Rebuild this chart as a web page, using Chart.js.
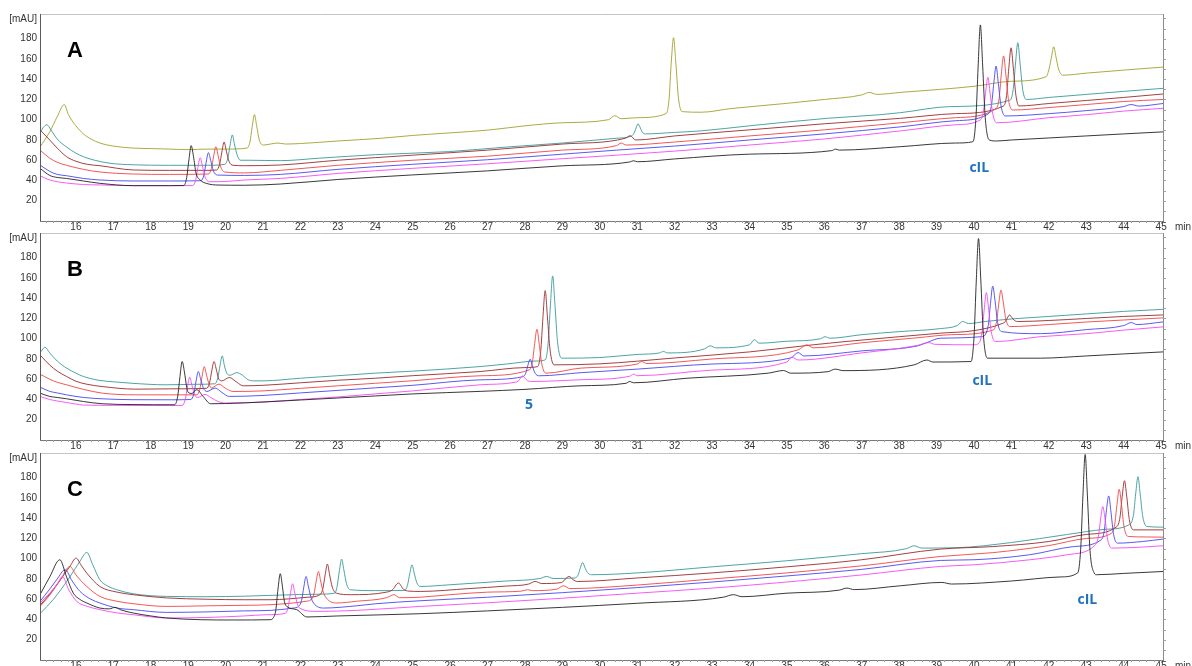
<!DOCTYPE html>
<html>
<head>
<meta charset="utf-8">
<script src="https://cdn.jsdelivr.net/npm/chart.js@4.4.1/dist/chart.umd.min.js"></script>
<style>
  body { margin: 0; background: #fff; overflow: hidden; width: 1192px; height: 666px; position: relative; }
  canvas { position: absolute; left: 0; }
</style>
</head>
<body>
<canvas id="panelA" width="1192" height="240" style="top:0px"></canvas>
<canvas id="panelB" width="1192" height="240" style="top:219px"></canvas>
<canvas id="panelC" width="1192" height="240" style="top:439px"></canvas>
<script>
// tick labels
var xTicks = [16,17,18,19,20,21,22,23,24,25,26,27,28,29,30,31,32,33,34,35,36,37,38,39,40,41,42,43,44,45]
var yTicks = [20,40,60,80,100,120,140,160,180]

// ---- panel A : [min, mAU] ----
var aBlack = [[15.04,52],[15.3,45],[15.5,43],[15.75,42],[16.2,39.5],[16.64,37.2],[17.53,34.9],[18.5,34.9],[18.88,35],
  [18.96,42.9],[19.02,60.6],[19.08,74.4],[19.14,64],[19.21,47.3],[19.32,40.5],[19.5,37],[19.8,35.5],[20.5,35.3],[21.46,36.5],
  [23,41],[25,45.5],[27,49.5],[29,54.5],[30.8,58.3],[30.9,59.5],[31,58.5],[32,61.3],[34,66],[36.2,69.5],[36.3,71],[36.4,70],
  [38.04,73.4],[39.5,77],[39.97,78.3],[40.05,101],[40.11,153],[40.17,193.6],[40.23,154],[40.3,102],[40.41,80],[40.6,79],
  [41,80],[42,82],[43,84],[44,86],[45.05,88]]
var aMagenta = [[15.04,44.7],[15.3,40.5],[15.5,38.8],[15.75,37.5],[16.2,36],[16.64,35.6],[17.53,34.9],[18.5,34.9],[19.12,35],
  [19.2,40.5],[19.26,52.9],[19.32,62.5],[19.38,54.5],[19.45,43.5],[19.56,38.8],[20,39],[20.5,40.5],[21.46,42],[23,47],[25,52],
  [27,56.5],[29,61.5],[30.45,65],[32,69],[34,75],[36,81],[38.04,89],[39.5,95],[40.17,99.8],[40.25,108],[40.31,127],[40.37,142],
  [40.43,126],[40.5,106],[40.61,97],[42,102],[43,105],[44,108.5],[45.05,111.3]]
var aBlue = [[15.04,55.3],[15.3,49],[15.5,46],[15.75,44.7],[16.2,42],[16.64,40.5],[17.53,39.5],[18.5,39.5],[19.34,39.8],
  [19.42,45.3],[19.48,57.8],[19.54,67.5],[19.6,60],[19.67,49.8],[19.78,45.4],[20.5,45],[21.46,46],[23,51],[25,56],[27,60.5],
  [29,66],[30.45,70],[32,74],[34,80],[36,86],[38.04,93],[39.5,99],[40.39,106],[40.47,115.4],[40.53,136.5],[40.59,153],
  [40.65,135.5],[40.72,114],[40.83,103.7],[42,106],[43,109],[44,113],[44.2,115],[44.4,113.5],[45.05,116]]
var aRed = [[15.04,70],[15.3,62],[15.5,58],[15.75,55],[16.2,51],[16.64,48.4],[17.53,46.4],[18.5,46],[19.54,46.4],
  [19.62,51.8],[19.68,64],[19.74,73.4],[19.8,64.5],[19.87,53.4],[19.98,48.4],[20.5,47.5],[21.46,50],[23,55],[25,60],[27,64],
  [29,70],[30.45,74.5],[30.57,77],[30.7,75],[32,78],[34,84],[36,90],[38.04,97],[39.5,102],[40.59,111],[40.67,121],[40.73,145],
  [40.79,163],[40.85,145],[40.92,120],[41.03,109.6],[42,112],[43,115],[44,118],[45.05,120]]
var aDarkRed = [[15.04,90],[15.3,80],[15.5,72],[15.75,63.5],[16,59],[16.3,56],[16.64,54.6],[17.53,50.4],[18.5,50],[19.5,50],
  [19.76,50.4],[19.84,56],[19.9,68],[19.96,78],[20.02,69],[20.09,59],[20.2,55],[20.5,54.6],[21.46,55.3],[23,60],[25,65],
  [27,70],[29,76],[30.68,81.7],[30.81,84.2],[30.96,80],[32,84],[34,90],[36,96],[38.04,101.4],[39.5,106],[40.79,113.6],
  [40.87,124],[40.93,151],[40.99,171],[41.05,151],[41.12,124],[41.2,113.6],[42,116],[43,119],[44,122],[45.05,125.4]]
var aTeal = [[15.04,87],[15.12,92],[15.22,95],[15.35,89],[15.5,81],[15.75,73],[16,67],[16.2,63.5],[16.5,60],[16.91,57],
  [17.53,55.5],[18.5,55],[19.5,55],[19.98,56],[20.06,62],[20.12,75],[20.18,85],[20.24,75],[20.31,65],[20.39,60],[20.6,60],
  [21.46,59.6],[22.5,62],[24,65.5],[25.96,68.5],[27.5,73],[29,77],[30.45,81.7],[30.85,84],[30.93,88],[30.98,93],[31.02,96],
  [31.07,93],[31.13,88],[31.22,86],[32,87.5],[32.71,89],[34,94],[36.08,101.4],[37.5,105],[38.04,107],[39.37,113],
  [40.97,119.5],[41.05,131],[41.11,156],[41.17,176],[41.23,156],[41.3,130],[41.4,120],[42,122],[43,125],[44,128],[45.05,131]]
var aOlive = [[15.04,73],[15.3,88],[15.5,103],[15.69,115],[15.8,105],[16,94],[16.2,86],[16.4,81],[16.64,77],[17,74],
  [17.53,72],[18,71.5],[18.5,71],[19,70.5],[19.5,71],[20,71],[20.57,72],[20.65,78],[20.71,93],[20.77,105],[20.83,94],
  [20.9,80],[21.01,75],[21.2,76],[21.4,77],[21.6,76],[22,76.5],[23,79],[24.16,81.7],[25,84.5],[26,87],[27.08,90],[28,94],
  [29,97],[30.23,100],[30.4,104],[30.57,101],[31,102],[31.77,106],[31.85,120],[31.91,157],[31.97,181],[32.03,157],
  [32.1,122],[32.2,108],[32.71,107.4],[33.5,111],[34.95,116],[36,120],[37,124.5],[37.2,127],[37.4,125],[38.04,127],
  [39.1,130],[40,133],[41,138],[41.93,142.5],[42.01,151],[42.07,162],[42.13,172],[42.19,162],[42.26,150],[42.37,144],
  [43,146],[44,149],[45.05,152]]

// ---- panel B ----
var bBlack = [[15.04,46.3],[15.3,43],[15.5,42],[15.75,40.7],[16.2,38],[16.7,35.8],[17.5,35],[18.64,34.8],[18.72,43.3],
  [18.78,62.6],[18.84,77.5],[18.9,67],[18.96,52],[19,47],[19.1,46],[19.23,49.6],[19.4,43],[19.6,35.8],[20,36],[21,37.5],
  [22,39.5],[23,41.5],[24,43.5],[25,45.5],[26.8,48],[28,50],[29.47,53.5],[30.7,56],[30.8,57.8],[30.9,56.5],[32.33,61],
  [34.5,66],[34.91,68.6],[35.1,66],[36.1,67.5],[36.29,70],[36.5,68.5],[38.4,74.2],[38.74,79],[38.9,77],[39.92,77.5],
  [40,101.8],[40.06,157],[40.12,199],[40.18,159],[40.25,104],[40.36,80.8],[41.77,80.8],[43,83],[44,85],[45.05,87]]
var bMagenta = [[15.04,43],[15.3,40],[15.5,38.5],[15.75,37],[16,35.5],[16.2,34.5],[17,34.2],[18.5,34],[18.84,34.2],
  [18.92,39.8],[18.98,52.3],[19.04,62.1],[19.1,54],[19.17,45],[19.25,42],[19.45,45],[19.6,42],[19.8,38],[20,36.5],[21,37.5],
  [22,40],[23,42.5],[24,45.5],[25,48.5],[26.8,54.5],[27.74,57],[27.82,58.1],[27.88,61.1],[27.94,63.4],[28,61],[28.07,58.5],
  [28.18,57.8],[29.5,59.5],[30.8,63],[30.9,65],[31,63.5],[33,69],[35,77],[35.13,81.8],[35.3,79],[37,86],[38.5,93.5],
  [38.78,96.2],[38.95,94.5],[40,94],[40.13,95.6],[40.21,105.6],[40.27,128],[40.33,145.5],[40.39,129],[40.46,107],
  [40.57,97.2],[41.77,102],[43,105],[44,108.5],[45.05,111.7]]
var bBlue = [[15.04,52.2],[15.3,48],[15.5,46.5],[15.75,44.6],[16.2,42],[16.7,40.7],[17.5,39.8],[18.55,39.7],[19.07,40],
  [19.15,45.5],[19.21,58],[19.27,67.6],[19.33,60.5],[19.4,51.8],[19.5,47.9],[19.72,51.3],[19.9,47],[20.1,43],[21,44],
  [22,46.5],[23,49],[24,51.5],[25,54],[26.8,59.4],[27.94,62.5],[28.02,66],[28.08,74],[28.14,79.8],[28.2,73],[28.27,66],
  [28.38,63.4],[29.5,66.5],[31,70],[33,75],[35.1,81],[35.3,86.3],[35.45,83],[37,88],[38.5,93],[38.74,96.2],[39.1,100.5],
  [40.2,102],[40.38,112.8],[40.44,135],[40.5,152],[40.56,138],[40.63,116],[40.74,107],[41.77,105],[43,109],[44,113],
  [44.2,116],[44.35,114],[45.05,116.6]]
var bRed = [[15.04,65],[15.3,60],[15.5,57],[15.75,54.5],[16.2,50],[16.7,46.3],[17.6,44.6],[18.5,44.6],[19.23,44.6],
  [19.31,50.2],[19.37,62.7],[19.43,72.5],[19.49,64],[19.56,55],[19.62,51.3],[19.82,55.2],[20,51],[20.2,47.9],[21,48.5],
  [22,51],[23,53.5],[24,56],[25,58.5],[26.8,63.4],[28.12,69.3],[28.2,77.3],[28.26,95.4],[28.32,109.4],[28.38,94.6],
  [28.45,75],[28.56,66],[29.5,71],[31,75],[31.12,77.5],[31.25,75.5],[33,80],[35.3,89],[35.53,94],[35.7,91],[37,96],
  [38.5,101],[39.4,104],[40.52,108.7],[40.6,116.6],[40.66,134.2],[40.72,148],[40.78,136.5],[40.85,119.2],[40.96,112],
  [42,114],[43,116.5],[44,118.5],[45.05,120.6]]
var bDarkRed = [[15.04,84],[15.3,74],[15.5,68],[15.75,62.7],[16,58],[16.3,55],[16.7,52.8],[17.6,50.2],[18.5,50.5],[19.49,51],
  [19.57,56.3],[19.63,68.2],[19.69,77.5],[19.75,70],[19.82,60],[19.9,58.4],[20.1,61.7],[20.3,57],[20.47,53.5],[21,54],
  [22,56.5],[23,59],[24,61],[25,63.5],[26.8,67.6],[28,71.5],[28.34,72.5],[28.42,87.5],[28.48,121],[28.54,147.5],[28.6,121.5],
  [28.67,89],[28.78,74.2],[30,75.2],[32,81],[34,87],[35.7,94],[36.5,97],[38,102],[39.1,105.5],[40,108],[40.75,115],
  [40.83,116.7],[40.89,120.5],[40.95,123.5],[41.01,121],[41.08,118],[41.2,117],[42,118],[43,120],[44,122],[45.05,123.5]]
var bTeal = [[15.04,86.3],[15.1,89],[15.17,91.6],[15.3,86],[15.5,78],[15.75,71],[16,66],[16.2,62.7],[16.6,59],[17.09,57.2],
  [17.5,56],[18.4,54.5],[19.2,55],[19.71,55.5],[19.79,61],[19.85,73.4],[19.91,83],[19.97,73],[20.03,66],[20.12,64],
  [20.3,66.5],[20.45,64],[20.6,59.5],[20.75,58.4],[21,58.4],[22,61],[23,63.5],[24,66],[25,68],[26.8,72.5],[27.5,75],
  [28.3,78],[28.54,79.1],[28.62,95.7],[28.68,133],[28.74,162],[28.8,134],[28.87,97],[28.98,80.8],[30,81.4],[31,84.5],
  [31.6,86],[31.7,87.5],[31.8,86],[32.8,90],[32.95,93],[33.1,91],[34,94],[34.13,99],[34.26,95.6],[35,97.5],[35.9,100],
  [36.02,102],[36.15,100.5],[37,104],[38,107],[39.1,110],[39.55,113],[39.7,117],[39.85,115],[40.3,117],[41,119.5],
  [42,122],[43,124.5],[44,127],[45.05,129]]

// ---- panel C ----
var cBlack = [[15.04,64.5],[15.3,82],[15.57,99],[15.75,82],[15.93,66],[16.1,60],[16.29,56.3],[16.64,51.3],[16.9,50.5],
  [17.04,52],[17.2,49.5],[17.53,46.4],[18,43.5],[18.42,41.5],[19.32,39.8],[20.2,39.5],[21.19,39.8],[21.28,42],[21.34,49],
  [21.4,70],[21.46,85.2],[21.52,72],[21.57,58],[21.63,53],[21.9,49.7],[22.17,42.5],[23,43.5],[25.2,45.7],[27,48.5],
  [29,52],[31,56],[33.3,62],[33.57,64.5],[33.8,62.5],[35,66],[36.4,69],[36.6,71],[36.8,69.5],[38.03,73.3],[39.14,76.6],
  [39.4,75],[41,78],[42.3,82],[42.77,86],[42.85,109.4],[42.91,162],[42.97,203],[43.03,162],[43.1,108],[43.21,86],
  [43.27,84.2],[44,85.5],[45.05,87.4]]
var cMagenta = [[15.04,56.3],[15.3,66],[15.5,75],[15.64,82.5],[15.8,70],[16.02,57.9],[16.3,53],[16.64,49.7],[17.1,46.5],
  [17.53,44.7],[18.42,41.5],[19.5,42],[20.5,43.5],[21.1,44.7],[21.59,46],[21.67,52],[21.73,65.3],[21.79,75.3],[21.85,66],
  [21.92,55],[21.98,51.3],[22.44,48],[23.5,49],[25.2,52.9],[27,56.5],[29,61],[31,66],[33,71],[35,77],[37,84],[39.1,92.4],
  [40,94],[41.5,99],[42.5,104],[43.24,113.7],[43.32,121.3],[43.38,138.3],[43.44,151.5],[43.5,139.6],[43.57,119.3],
  [43.68,110.5],[44.5,111.5],[45.05,112.8]]
var cBlue = [[15.04,57.9],[15.3,70],[15.5,80],[15.71,89.1],[15.9,78],[16.11,67.7],[16.4,60],[16.64,56.3],[17.1,51.3],
  [17.53,49.7],[18.42,47],[19.5,47.5],[20.5,48.5],[21.19,49],[21.81,51.3],[21.95,52.9],[22.03,58.8],[22.09,72],[22.15,82.5],
  [22.21,73],[22.28,62],[22.35,56.3],[22.62,51.3],[23.5,53.5],[24,55.5],[25.2,58.5],[27,62],[29,66.5],[31,71.5],[33,77],
  [35,83],[37,89.5],[39.1,98.3],[40,99],[41.5,104],[42.66,112],[43.4,118.7],[43.48,127.4],[43.54,148.4],[43.6,162],
  [43.66,146],[43.73,124],[43.84,115.4],[44.5,117],[45.05,119.4]]
var cRed = [[15.04,52.9],[15.3,64],[15.6,80],[15.84,92.4],[16,84],[16.29,72.6],[16.64,62.8],[17.1,58],[17.53,55.6],
  [18.42,52.9],[19.5,53.5],[20.5,54],[21.19,54.6],[22.15,58],[22.28,59.5],[22.36,65.1],[22.42,77.6],[22.48,87.4],[22.54,78],
  [22.61,67],[22.72,60],[22.97,56.3],[23.5,58],[24.3,61.5],[24.5,64.5],[24.65,61.5],[25.2,62],[26,64.5],[27,67],[27.9,68],
  [28.07,69.4],[28.2,68.5],[28.85,70],[29.03,73.3],[29.2,70.5],[31,74],[33,80],[35,86],[37,93],[39.1,102.2],[40.5,106],
  [42,113],[43,120],[43.68,125.3],[43.76,134],[43.82,153.4],[43.88,168.6],[43.94,153.5],[44.01,131.3],[44.12,122],
  [44.6,121.5],[45.05,121.3]]
var cDarkRed = [[15.04,54],[15.3,65],[15.6,80],[15.85,93],[16,100.6],[16.15,93],[16.29,85.8],[16.64,72.6],[17.1,67],
  [17.53,64.5],[18.42,61.3],[19.5,60],[20.5,59.5],[21.19,59.5],[22.2,62],[22.52,64.5],[22.6,70.5],[22.66,84.1],[22.72,94.7],
  [22.78,84],[22.85,72],[22.96,66],[23.33,64.5],[24.3,67],[24.45,69],[24.62,76],[24.75,70],[24.9,68],[25.2,67.7],[26.5,70.5],
  [27.5,73],[28.1,75],[28.27,77.6],[28.45,75.5],[28.98,76.5],[29.08,80],[29.18,82.5],[29.28,79.5],[29.4,77.5],[31,81],
  [33,86],[35,92],[37,99],[39.1,109.5],[40.5,112],[42,117],[43,124],[43.82,131.8],[43.9,140.8],[43.96,161.7],[44.02,177],
  [44.08,161.8],[44.15,138.7],[44.26,128.5],[45.05,128.5]]
var cTeal = [[15.04,45.7],[15.4,60],[15.8,80],[16.1,97],[16.29,106.2],[16.45,94],[16.64,79.2],[16.85,73],[17.09,69.4],
  [17.53,65.4],[18.42,62.8],[19.5,62.5],[20.5,63],[21.19,63.8],[22.5,65],[22.92,66.1],[22.98,72.8],[23.04,87.9],[23.1,99.6],
  [23.16,89],[23.23,75.4],[23.33,69.4],[24,68.5],[24.78,68.7],[24.86,73.8],[24.92,85.1],[24.98,94],[25.04,85.8],[25.11,76.3],
  [25.2,72.6],[26,74.3],[27.5,78],[28.4,80.5],[28.58,82.5],[28.75,80.5],[29.34,81],[29.42,84],[29.48,91],[29.54,96.3],
  [29.6,91.5],[29.67,86.3],[29.78,84.2],[31,86],[33,92],[35,98],[37,105],[38.2,110],[38.4,112.8],[38.6,110.5],[39.5,110.8],
  [41,116],[42.5,124],[43.5,129],[44.14,133.5],[44.26,143],[44.32,164],[44.38,181],[44.44,164],[44.51,141.5],[44.62,131.8],
  [45.05,131.2]]

// peak annotations [text, min, mAU]
var notesA = [['cIL', 40.14, 52]]
var notesB = [['cIL', 40.22, 58.6], ['5', 28.11, 35]]
var notesC = [['cIL', 43.03, 59.6]]

var COLORS = {
    black: '#222222', magenta: '#f548f5', blue: '#4646f2', red: '#f24444',
    darkred: '#9a2a2a', teal: '#3a9a9a', olive: '#a2a22c'
}
var TICK_FONT = { family: 'Liberation Sans', size: 10 }

var extras = {
    id: 'extras',
    afterDraw: function (chart) {
        var ctx = chart.ctx, a = chart.chartArea
        var xs = chart.scales.x, ys = chart.scales.y
        var opt = chart.options.plugins.extras
        ctx.save()
        ctx.lineWidth = 1
        // box
        ctx.strokeStyle = '#c4c4c4'
        ctx.beginPath(); ctx.moveTo(a.left, a.top + 0.5); ctx.lineTo(a.right, a.top + 0.5); ctx.stroke()
        ctx.strokeStyle = '#8a8a8a'
        ctx.beginPath(); ctx.moveTo(a.right + 0.5, a.top); ctx.lineTo(a.right + 0.5, a.bottom); ctx.stroke()
        ctx.strokeStyle = '#5a5a5a'
        ctx.beginPath(); ctx.moveTo(a.left + 0.5, a.top); ctx.lineTo(a.left + 0.5, a.bottom + 1); ctx.stroke()
        ctx.strokeStyle = '#7a7a7a'
        ctx.beginPath(); ctx.moveTo(a.left, a.bottom + 0.5); ctx.lineTo(a.right + 1, a.bottom + 0.5); ctx.stroke()
        // minor ticks
        ctx.strokeStyle = '#a0a0a0'
        ctx.beginPath()
        for (var v = 10; v <= 200; v += 10) {
            var py = Math.round(ys.getPixelForValue(v)) + 0.5
            ctx.moveTo(a.right, py); ctx.lineTo(a.right + 3, py)
        }
        for (var k = 76; k <= 225; k++) {
            var px = Math.round(xs.getPixelForValue(k / 5)) + 0.5
            if (px > a.right) break
            ctx.moveTo(px, a.bottom); ctx.lineTo(px, a.bottom + (k % 5 == 0 ? 3 : 2))
        }
        ctx.stroke()
        // texts
        ctx.fillStyle = '#333'
        ctx.font = '10px "Liberation Sans"'
        ctx.textBaseline = 'middle'
        ctx.textAlign = 'right'
        ctx.fillText('[mAU]', a.left - 3, a.top + 5)
        ctx.textAlign = 'left'
        ctx.fillText('min', a.right + 12, a.bottom + 6)
        ctx.fillStyle = '#000'
        ctx.font = 'bold 22px "Liberation Sans"'
        ctx.textAlign = 'center'
        ctx.fillText(opt.letter, a.left + 35, a.top + 37)
        ctx.fillStyle = '#1f72bd'
        ctx.font = 'bold 14px "Open Sans"'
        opt.notes.forEach(function (n) {
            ctx.fillText(n[0], xs.getPixelForValue(n[1]), ys.getPixelForValue(n[2]))
        })
        ctx.restore()
    }
}

function makePanel(id, letter, traces, notes) {
    var datasets = traces.map(function (t) {
        return {
            data: t[0].map(function (p) { return { x: p[0], y: p[1] } }),
            borderColor: t[1],
            borderWidth: 0.9,
            pointRadius: 0,
            fill: false,
            cubicInterpolationMode: 'monotone'
        }
    })
    new Chart(document.getElementById(id), {
        type: 'line',
        data: { datasets: datasets },
        options: {
            responsive: false,
            animation: false,
            devicePixelRatio: 1,
            layout: { padding: { left: 0, right: 29, top: 14, bottom: 0 } },
            plugins: {
                legend: { display: false },
                tooltip: { enabled: false },
                extras: { letter: letter, notes: notes }
            },
            scales: {
                x: {
                    type: 'linear', min: 15.04, max: 45.05,
                    grid: { display: false, drawTicks: false },
                    border: { display: false },
                    ticks: { font: TICK_FONT, color: '#333', padding: 0, maxRotation: 0, autoSkip: false },
                    afterBuildTicks: function (s) { s.ticks = xTicks.map(function (v) { return { value: v } }) },
                    afterFit: function (s) { s.height = 19 }
                },
                y: {
                    min: 0, max: 204.4,
                    grid: { display: false, drawTicks: false },
                    border: { display: false },
                    ticks: { font: TICK_FONT, color: '#333', padding: 3 },
                    afterBuildTicks: function (s) { s.ticks = yTicks.map(function (v) { return { value: v } }) },
                    afterFit: function (s) { s.width = 40 }
                }
            }
        },
        plugins: [extras]
    })
}

makePanel('panelA', 'A', [
    [aBlack, COLORS.black], [aMagenta, COLORS.magenta], [aBlue, COLORS.blue], [aRed, COLORS.red],
    [aDarkRed, COLORS.darkred], [aTeal, COLORS.teal], [aOlive, COLORS.olive]
], notesA)
makePanel('panelB', 'B', [
    [bBlack, COLORS.black], [bMagenta, COLORS.magenta], [bBlue, COLORS.blue], [bRed, COLORS.red],
    [bDarkRed, COLORS.darkred], [bTeal, COLORS.teal]
], notesB)
makePanel('panelC', 'C', [
    [cBlack, COLORS.black], [cMagenta, COLORS.magenta], [cBlue, COLORS.blue], [cRed, COLORS.red],
    [cDarkRed, COLORS.darkred], [cTeal, COLORS.teal]
], notesC)
</script>
</body>
</html>
